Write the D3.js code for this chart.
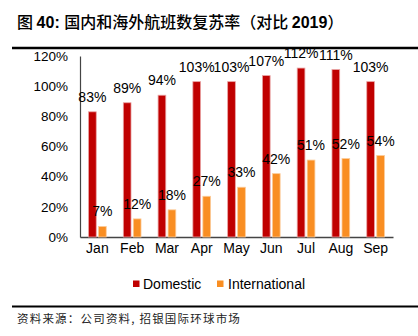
<!DOCTYPE html>
<html><head><meta charset="utf-8">
<script src="https://cdn.jsdelivr.net/npm/d3@7"></script>
<style>
html,body{margin:0;padding:0;background:#fff;}
svg{display:block;}
</style></head>
<body>
<svg id="c" width="418" height="336"></svg>
<script>
const months = ["Jan","Feb","Mar","Apr","May","Jun","Jul","Aug","Sep"];
const domestic = [83,89,94,103,103,107,112,111,103];
const international = [7,12,18,27,33,42,51,52,54];
const yTicks = [0,20,40,60,80,100,120];
const seriesNames = ["Domestic","International"];
const colors = ["#C00000","#F98E22"];
const strokes = ["#E9A3A3","#FCCB99"];

(function(){
const svg = d3.select("#c");
const font = "'Liberation Sans', Arial, sans-serif";
const cjk = "'Noto Sans CJK SC', sans-serif";

// title
const title = svg.append("text").attr("x",17).attr("y",28)
  .attr("font-family",cjk).attr("font-size",16).attr("fill","#000");
title.append("tspan").attr("font-weight","500").text("图 ");
title.append("tspan").attr("font-weight","bold").attr("font-family",font).text("40: ");
title.append("tspan").attr("font-weight","500").text("国内和海外航班数复苏率（对比 ");
title.append("tspan").attr("font-weight","bold").attr("font-family",font).text("2019");
title.append("tspan").attr("font-weight","500").text("）");

svg.append("line").attr("x1",12).attr("x2",418).attr("y1",48).attr("y2",48)
  .attr("stroke","#000").attr("stroke-width",2.5);
svg.append("line").attr("x1",12).attr("x2",418).attr("y1",306.5).attr("y2",306.5)
  .attr("stroke","#000").attr("stroke-width",2);
svg.append("text").attr("x",17).attr("y",323)
  .attr("font-family",cjk).attr("font-size",11.5).attr("letter-spacing",1.2)
  .attr("fill","#222").text("资料来源：公司资料, 招银国际环球市场");

const pLeft = 80, pRight = 393, pTop = 56, pBottom = 237;
const x = d3.scaleBand().domain(months).range([pLeft,pRight]).paddingInner(0).paddingOuter(0);
const y = d3.scaleLinear().domain([0,120]).range([pBottom,pTop]);
const bw = 7.7, gap = 2.3;

// y axis
const yAxis = svg.append("g").attr("transform",`translate(${pLeft},0)`)
  .call(d3.axisLeft(y).tickValues(yTicks).tickFormat(d=>d+"%").tickSize(0).tickPadding(12));
yAxis.select(".domain").attr("stroke","#444").attr("stroke-width",1.2);
yAxis.selectAll("text").attr("font-family",font).attr("font-size",13.5).attr("fill","#000");

// x axis
const xAxis = svg.append("g").attr("transform",`translate(0,${pBottom})`)
  .call(d3.axisBottom(x).tickSize(0).tickPadding(6));
xAxis.select(".domain").attr("stroke","#444").attr("stroke-width",1.5);
xAxis.selectAll("text").attr("font-family",font).attr("font-size",14).attr("fill","#000");

const series = [domestic, international];
series.forEach((vals,si)=>{
  const off = si===0 ? -gap/2 - bw : gap/2;
  const g = svg.append("g");
  g.selectAll("rect").data(vals).enter().append("rect")
    .attr("x",(d,i)=>x(months[i])+x.bandwidth()/2+off)
    .attr("y",d=>y(d))
    .attr("width",bw)
    .attr("height",d=>y(0)-y(d))
    .attr("fill",colors[si])
    .attr("stroke",strokes[si]).attr("stroke-width",0.8);
  g.selectAll("text").data(vals).enter().append("text")
    .attr("x",(d,i)=>x(months[i])+x.bandwidth()/2+off+bw/2)
    .attr("y",d=>y(d)-10)
    .attr("text-anchor","middle")
    .attr("font-family",font).attr("font-size",14).attr("fill","#000")
    .text(d=>d+"%");
});

// legend
const legendItems = [{x:133,tx:143},{x:217,tx:228}];
seriesNames.forEach((n,i)=>{
  svg.append("rect").attr("x",legendItems[i].x).attr("y",280.5).attr("width",6.5).attr("height",6.5)
    .attr("fill",colors[i]);
  svg.append("text").attr("x",legendItems[i].tx).attr("y",288.5)
    .attr("font-family",font).attr("font-size",14).attr("fill","#000").text(n);
});
})();
</script>
</body></html>
